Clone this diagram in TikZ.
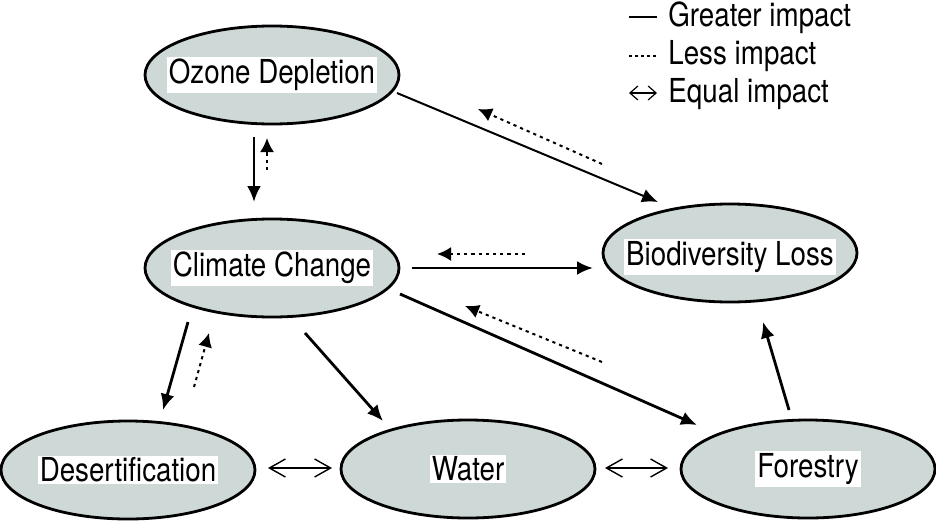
\documentclass[tikz,border=0pt]{standalone}
\usepackage{fontspec}
\newfontfamily\labelfont{TeX Gyre Heros}[FakeStretch=0.84]
\usetikzlibrary{calc,arrows.meta,shapes.geometric}
\definecolor{bubblegrey}{RGB}{206,216,214}

\begin{document}
\begin{tikzpicture}[x=0.5pt,y=-0.5pt,
		bubble/.style={ellipse,draw=black,line width=1.4pt,fill=bubblegrey,minimum width=127pt,minimum height=49pt,inner sep=0pt},
		tag/.style={fill=white,inner sep=1pt,font=\labelfont\fontsize{16.5}{19}\selectfont},
		major/.style={line width=1.4pt,-{Latex[length=8pt,width=7pt]}},
		minor/.style={line width=1pt,dash pattern=on 1.6pt off 2pt,-{Latex[length=7pt,width=7pt]}},
		equal/.style={line width=0.7pt,{Straight Barb[length=8pt,width=9pt]}-{Straight Barb[length=8pt,width=9pt]}}]
		%%%%% START %%%%%
		\useasboundingbox (0,0) rectangle (936,525);
		
		\node[bubble] (ozone) at (272,75) {};
		\node[tag] (ozonetxt) at (ozone) {Ozone Depletion};
		
		\node[bubble] (climate) at (272,268) {};
		\node[tag] (climatetxt) at (climate) {Climate Change};
		
		\node[bubble] (bio) at (730,253) {};
		\node[tag] (biotxt) at ($(bio)+(0,4)$) {Biodiversity Loss};
		
		\node[bubble] (desert) at (128,470) {};
		\node[tag] (deserttxt) at (desert) {Desertification};
		
		\node[bubble] (water) at (468,469) {};
		\node[tag] (watertxt) at (water) {Water};
		
		\node[bubble] (forestry) at (808,469) {};
		\node[tag] (forestrytxt) at (forestry) {Forestry};
		
		% impacts
		\draw[major,line width=1pt] ($(ozone)+(125,18)$) -- ($(bio)+(-72,-51)$);
		\draw[minor] ($(bio)+(-128,-89)$) -- ($(ozone)+(206,34)$);
		\draw[major] ($(ozone)+(-18,62)$) -- ($(climate)+(-18,-66)$);
		\draw[minor] ($(climate)+(-5,-98)$) -- ($(ozone)+(-5,63)$);
		\draw[major] ($(climate)+(140,0)$) -- ($(bio)+(-137,15)$);
		\draw[minor] ($(bio)+(-205,1)$) -- ($(climate)+(165,-14)$);
		\draw[major] ($(climate)+(-84,54)$) -- ($(desert)+(35,-60)$);
		\draw[minor] ($(desert)+(66,-83)$) -- ($(climate)+(-63,65)$);
		\draw[major] ($(climate)+(33,65)$) -- ($(water)+(-85,-48)$);
		\draw[major] ($(climate)+(128,26)$) -- ($(forestry)+(-111,-44)$);
		\draw[minor] ($(forestry)+(-206,-107)$) -- ($(climate)+(193,38)$);
		\draw[major] ($(forestry)+(-19,-59)$) -- ($(bio)+(33,69)$);
		\draw[equal] ($(desert)+(140,-2)$) -- ($(water)+(-136,-1)$);
		\draw[equal] ($(water)+(137,-1)$) -- ($(forestry)+(-140,-1)$);
		
		% key
		\coordinate (keyA) at (629,17);
		\coordinate (keyB) at (629,56);
		\coordinate (keyC) at (629,93);
		\draw[line width=1.4pt] (keyA) -- ++(28,0);
		\draw[line width=0.6pt,dash pattern=on 1.5pt off 1.5pt] (keyB) -- ++(28,0);
		\draw[line width=0.6pt,{Straight Barb[length=4pt,width=7pt]}-{Straight Barb[length=4pt,width=7pt]}] (keyC) -- ++(28,0);
		\node[tag,anchor=west,fill=none] (keytxtA) at (666,18) {Greater impact};
		\node[tag,anchor=west,fill=none] (keytxtB) at (666,56) {Less impact};
		\node[tag,anchor=west,fill=none] (keytxtC) at (666,94) {Equal impact};
		%%%%% END %%%%%
	\end{tikzpicture}
\end{document}
